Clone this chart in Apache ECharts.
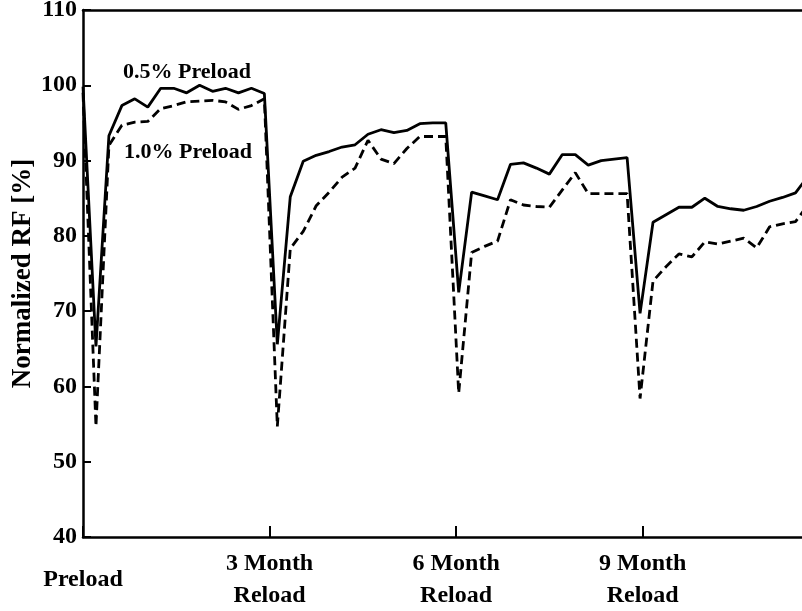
<!DOCTYPE html>
<html>
<head>
<meta charset="utf-8">
<script src="https://cdn.jsdelivr.net/npm/echarts@6/dist/echarts.min.js"></script>
<style>
  html, body { margin: 0; padding: 0; background: #fff; }
  #chart { width: 802px; height: 611px; }
</style>
</head>
<body>
<div id="chart"></div>
<script>
// Normalized RF per measurement, two preload levels; each reload causes a sharp drop
const preload05 = [
  99.8, 65.3, 93.3, 97.3, 98.2, 97.1, 99.6, 99.6, 99.0, 100.0, 99.2, 99.6, 99.0, 99.6, 98.9,
  65.6, 85.2, 89.9, 90.7, 91.2, 91.8, 92.1, 93.5, 94.1, 93.7, 94.0, 94.9, 95.0, 95.0,
  72.5, 85.8, 85.3, 84.8, 89.5, 89.7, 89.0, 88.2, 90.8, 90.8, 89.4, 90.0, 90.2, 90.4,
  69.7, 81.8, 82.8, 83.8, 83.8, 85.0, 83.9, 83.6, 83.4, 83.9, 84.6, 85.1, 85.7, 88.0
];
const preload10 = [
  99.0, 54.7, 92.0, 94.7, 95.1, 95.2, 96.9, 97.3, 97.8, 97.9, 98.0, 97.8, 96.8, 97.3, 98.2,
  54.7, 78.3, 80.6, 84.0, 85.8, 87.8, 89.0, 92.7, 90.2, 89.6, 91.6, 93.2, 93.2, 93.2,
  59.1, 77.8, 78.6, 79.3, 84.8, 84.1, 83.9, 83.8, 86.1, 88.4, 85.6, 85.6, 85.6, 85.6,
  58.4, 74.0, 75.9, 77.6, 77.2, 79.2, 78.9, 79.3, 79.7, 78.4, 81.2, 81.6, 81.9, 84.2
];
const stageLabels = ['Preload', '3 Month\nReload', '6 Month\nReload', '9 Month\nReload'];
const stageStep = 14.4;    // measurements between successive reloads
const yTicks = { min: 40, max: 110, step: 10 };

const toPairs = arr => arr.map((v, i) => [i, v]);
const font = 'Liberation Serif, Times New Roman, serif';
const axisLineStyle = { color: '#000', width: 2.5 };

const chart = echarts.init(document.getElementById('chart'), null, { renderer: 'canvas' });

chart.setOption({
  animation: false,
  backgroundColor: '#fff',
  grid: { left: 83, top: 10, right: 0, bottom: 74, containLabel: false, outerBoundsMode: 'none' },
  xAxis: [
    {
      type: 'value',
      position: 'bottom',
      min: 0,
      max: 55.5,
      interval: stageStep,
      axisLine: { show: true, lineStyle: axisLineStyle },
      axisTick: { show: true, inside: true, length: 11, lineStyle: { color: '#000', width: 2 } },
      splitLine: { show: false },
      axisLabel: {
        showMaxLabel: false,
        margin: 43,
        verticalAlign: 'middle',
        lineHeight: 32,
        color: '#000',
        fontFamily: font,
        fontWeight: 'bold',
        fontSize: 24,
        formatter: v => stageLabels[Math.round(v / stageStep)] || ''
      }
    },
    {
      // frame line along the top of the plot
      type: 'value',
      position: 'top',
      min: 0,
      max: 55.5,
      axisLine: { show: true, onZero: false, lineStyle: axisLineStyle },
      axisTick: { show: false },
      axisLabel: { show: false },
      splitLine: { show: false }
    }
  ],
  yAxis: {
    type: 'value',
    min: yTicks.min,
    max: yTicks.max,
    interval: yTicks.step,
    name: 'Normalized RF [%]',
    nameLocation: 'middle',
    nameGap: 46,
    nameMoveOverlap: false,
    nameRotate: 90,
    nameTextStyle: { color: '#000', fontFamily: font, fontWeight: 'bold', fontSize: 27 },
    axisLine: { show: true, lineStyle: axisLineStyle },
    axisTick: { show: true, inside: true, length: 8, lineStyle: { color: '#000', width: 2 } },
    splitLine: { show: false },
    axisLabel: {
      margin: 6,
      color: '#000',
      fontFamily: font,
      fontWeight: 'bold',
      fontSize: 24
    }
  },
  series: [
    {
      name: '0.5% Preload',
      type: 'line',
      data: toPairs(preload05),
      symbol: 'none',
      clip: true,
      lineStyle: { color: '#000', width: 2.8, type: 'solid' },
      z: 3
    },
    {
      name: '1.0% Preload',
      type: 'line',
      data: toPairs(preload10),
      symbol: 'none',
      clip: true,
      lineStyle: { color: '#000', width: 2.8, type: [9, 5] },
      z: 2
    }
  ],
  graphic: [
    {
      type: 'text', x: 187, y: 72,
      style: { text: '0.5% Preload', fill: '#000', font: 'bold 22px ' + font, align: 'center', verticalAlign: 'middle' }
    },
    {
      type: 'text', x: 188, y: 152,
      style: { text: '1.0% Preload', fill: '#000', font: 'bold 22px ' + font, align: 'center', verticalAlign: 'middle' }
    }
  ]
});
</script>
</body>
</html>
